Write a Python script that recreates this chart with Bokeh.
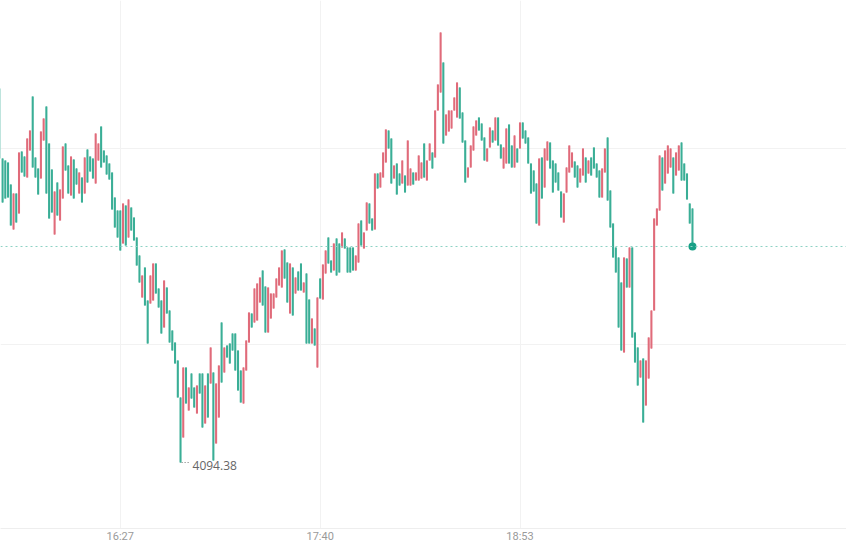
import numpy as np
import pandas as pd
from bokeh.plotting import figure
from bokeh.models import ColumnDataSource, FixedTicker, DatetimeTickFormatter, Span, Range1d
from bokeh.embed import file_html
from bokeh.resources import INLINE
from bokeh.core.properties import value

# ---- data (1-minute candles) ----
session_date = "2024-01-02"
first_candle = "15:43"

highs = [
    4113.08, 4109.58, 4109.48, 4109.38, 4108.28, 4107.83, 4107.83, 4109.88, 4109.93, 4109.68,
    4110.58, 4110.98, 4112.68, 4109.63, 4109.08, 4110.93, 4111.58, 4112.18, 4110.33, 4109.03,
    4107.93, 4108.38, 4108.03, 4110.18, 4110.33, 4109.23, 4109.68, 4109.53, 4109.08, 4108.88,
    4108.63, 4109.63, 4110.03, 4109.68, 4109.58, 4110.83, 4110.33, 4111.18, 4109.98, 4109.73,
    4109.33, 4108.88, 4107.63, 4106.98, 4106.98, 4107.33, 4107.23, 4107.53, 4107.13, 4106.63,
    4105.63, 4104.73, 4103.73, 4104.13, 4102.48, 4103.73, 4104.33, 4104.33, 4103.08, 4102.48,
    4103.48, 4103.13, 4101.98, 4100.98, 4100.38, 4099.48, 4097.63, 4099.13, 4099.13, 4098.13,
    4098.83, 4098.13, 4098.23, 4098.83, 4098.83, 4098.23, 4098.83, 4100.13, 4098.88, 4098.33,
    4099.23, 4101.38, 4100.13, 4100.23, 4100.33, 4100.83, 4100.83, 4099.98, 4098.98, 4099.13,
    4100.48, 4101.88, 4101.83, 4103.08, 4103.33, 4103.63, 4103.98, 4103.18, 4103.13, 4102.83,
    4102.83, 4103.58, 4104.13, 4104.98, 4105.03, 4104.38, 4104.33, 4104.13, 4103.63, 4103.93,
    4104.33, 4103.38, 4103.83, 4102.53, 4101.58, 4101.08, 4102.63, 4103.58, 4104.28, 4104.98,
    4105.63, 4104.48, 4105.33, 4105.58, 4105.33, 4105.88, 4105.58, 4105.13, 4105.13, 4105.13,
    4104.73, 4106.33, 4106.48, 4105.88, 4107.38, 4107.33, 4106.58, 4108.83, 4108.83, 4108.88,
    4109.88, 4111.03, 4110.98, 4110.58, 4109.23, 4109.33, 4108.83, 4109.48, 4108.73, 4110.48,
    4109.08, 4108.88, 4108.88, 4109.73, 4109.38, 4110.33, 4109.48, 4110.33, 4109.88, 4111.98,
    4113.28, 4115.88, 4114.38, 4111.78, 4111.98, 4111.98, 4112.63, 4113.38, 4113.13, 4111.88,
    4110.48, 4109.13, 4110.23, 4111.18, 4111.48, 4111.63, 4111.33, 4110.63, 4110.08, 4111.13,
    4110.98, 4111.63, 4111.63, 4110.28, 4110.13, 4111.08, 4111.28, 4110.23, 4110.73, 4110.08,
    4111.38, 4111.38, 4110.98, 4110.63, 4109.33, 4108.98, 4108.33, 4109.58, 4109.63, 4110.08,
    4110.43, 4110.38, 4109.48, 4109.33, 4108.88, 4107.93, 4107.83, 4109.13, 4110.23, 4109.88,
    4109.43, 4109.23, 4109.08, 4110.08, 4109.63, 4109.48, 4109.63, 4110.13, 4109.33, 4108.98,
    4109.08, 4110.08, 4110.63, 4107.98, 4106.33, 4105.13, 4104.63, 4103.38, 4104.63, 4104.58,
    4105.13, 4105.13, 4100.88, 4100.13, 4099.48, 4099.58, 4099.48, 4100.63, 4101.98, 4106.58,
    4107.08, 4109.73, 4109.63, 4109.98, 4110.23, 4110.08, 4109.63, 4109.88, 4110.23, 4110.38,
    4109.33, 4108.83, 4107.33, 4107.08,
]

lows = [
    4109.58, 4107.38, 4107.58, 4107.63, 4106.23, 4106.03, 4106.38, 4106.83, 4108.88, 4108.68,
    4108.63, 4109.98, 4109.13, 4108.63, 4107.78, 4108.58, 4110.48, 4107.83, 4106.58, 4106.88,
    4105.78, 4106.73, 4106.48, 4107.58, 4108.98, 4107.83, 4107.73, 4107.58, 4108.28, 4107.83,
    4107.38, 4107.83, 4108.38, 4108.93, 4108.58, 4108.33, 4109.48, 4109.13, 4109.38, 4108.78,
    4108.53, 4107.03, 4106.13, 4105.63, 4104.98, 4105.33, 4105.23, 4105.63, 4105.98, 4105.48,
    4104.23, 4103.38, 4102.63, 4102.23, 4100.33, 4102.33, 4102.48, 4102.83, 4102.13, 4100.83,
    4101.13, 4101.83, 4100.38, 4099.98, 4099.33, 4097.63, 4094.38, 4095.63, 4097.33, 4096.98,
    4097.58, 4097.13, 4096.83, 4097.83, 4096.13, 4096.33, 4096.63, 4098.33, 4094.48, 4095.33,
    4096.63, 4098.38, 4098.88, 4099.63, 4099.33, 4099.98, 4098.98, 4097.98, 4097.38, 4097.33,
    4098.98, 4100.38, 4101.13, 4101.38, 4101.48, 4102.38, 4102.23, 4100.88, 4100.88, 4101.58,
    4102.08, 4102.63, 4103.23, 4103.13, 4103.58, 4102.38, 4101.83, 4101.73, 4102.83, 4102.98,
    4102.98, 4102.88, 4100.33, 4100.33, 4100.33, 4100.23, 4099.13, 4102.58, 4102.53, 4103.83,
    4104.33, 4103.88, 4103.98, 4103.73, 4103.88, 4105.13, 4105.08, 4103.88, 4103.88, 4103.98,
    4103.98, 4104.38, 4105.23, 4105.08, 4105.98, 4106.33, 4105.98, 4106.03, 4108.08, 4108.13,
    4108.63, 4109.38, 4110.08, 4108.33, 4108.58, 4107.78, 4108.23, 4108.33, 4107.88, 4108.23,
    4108.23, 4108.28, 4108.48, 4108.48, 4108.58, 4108.63, 4108.48, 4109.48, 4109.08, 4109.63,
    4111.98, 4112.88, 4110.33, 4110.73, 4110.93, 4111.08, 4111.98, 4111.63, 4111.58, 4110.38,
    4108.38, 4108.63, 4109.13, 4109.98, 4110.73, 4110.98, 4110.48, 4109.48, 4109.43, 4110.13,
    4110.38, 4110.48, 4110.23, 4109.58, 4109.08, 4109.33, 4109.33, 4109.13, 4109.13, 4109.38,
    4110.08, 4110.58, 4110.33, 4109.33, 4107.83, 4107.93, 4106.33, 4106.23, 4107.58, 4108.13,
    4109.48, 4109.08, 4107.88, 4108.38, 4107.98, 4106.63, 4106.38, 4107.88, 4108.88, 4109.13,
    4108.63, 4108.13, 4108.38, 4108.73, 4108.38, 4108.83, 4108.73, 4109.08, 4108.63, 4107.63,
    4107.63, 4108.88, 4107.48, 4106.13, 4104.63, 4103.88, 4101.13, 4099.98, 4099.88, 4103.13,
    4103.13, 4100.63, 4099.38, 4098.23, 4098.63, 4096.38, 4097.23, 4098.58, 4100.08, 4101.98,
    4106.23, 4106.98, 4107.98, 4108.33, 4108.83, 4109.13, 4107.83, 4108.73, 4108.98, 4108.48,
    4108.48, 4107.53, 4106.33, 4105.18,
]

# u = rising candle (red), d = falling candle (green)
directions = (
    "dddddududd" "uuddduuddd" "uduudduddu" "duddduuddd" "dddddududd"
    "ddudduuddd" "uddddddudu" "dduddududu" "ududdddddu" "uuduuudduu"
    "uuuuddudud" "duddududuu" "dduddudddd" "uuduuddudu" "uudduddudu"
    "uduuuduudu" "uuduuuuudd" "duuuuddduu" "dudduuddud" "uddddddudu"
    "uddddduuuu" "dduududddd" "uuddddddud" "uddduduuuu" "uuduuuduud"
    "dddd"
)

x_tick_labels = ["16:27", "17:40", "18:53"]
price_grid_levels = [4100.28, 4110.08]

UP_COLOR = "#e06b7a"
DOWN_COLOR = "#3aae96"

# ---- derived ----
assert len(highs) == len(lows) == len(directions)
times = pd.date_range(f"{session_date} {first_candle}", periods=len(highs), freq="min")
up = np.array([c == "u" for c in directions])
highs_a = np.array(highs)
lows_a = np.array(lows)
opens = np.where(up, lows_a, highs_a)
closes = np.where(up, highs_a, lows_a)
colors = [UP_COLOR if u else DOWN_COLOR for u in up]

src = ColumnDataSource(dict(
    t=times, high=highs_a, low=lows_a,
    top=np.maximum(opens, closes), bottom=np.minimum(opens, closes), color=colors,
))

minute = pd.Timedelta(minutes=1)
t0 = times[0]
x_range = Range1d(start=t0 + 0.241 * minute, end=t0 + 309.26 * minute)
y_range = Range1d(start=4091.08, end=4117.48)

p = figure(
    x_axis_type="datetime", x_range=x_range, y_range=y_range,
    frame_width=846, frame_height=528,
    toolbar_location=None, output_backend="svg",
    y_axis_location=None, title=None,
    min_border_left=0, min_border_right=0, min_border_top=0, min_border_bottom=0,
    background_fill_color="white", border_fill_color="white",
)
p.outline_line_color = None

tick_ms = [pd.Timestamp(f"{session_date} {s}").value / 1e6 for s in x_tick_labels]
p.xaxis.ticker = FixedTicker(ticks=tick_ms)
fmt = "%H:%M"
p.xaxis.formatter = DatetimeTickFormatter(
    seconds=fmt, minsec=fmt, minutes=fmt, hourmin=fmt, hours=fmt, days=fmt,
    months=fmt, years=fmt,
)
p.xaxis.axis_line_color = "#eeeeee"
p.xaxis.major_tick_line_color = None
p.xaxis.minor_tick_line_color = None
p.xaxis.major_tick_out = 0
p.xaxis.major_tick_in = 0
p.xaxis.major_label_standoff = 1
p.xaxis.major_label_text_color = "#9a9a9a"
p.xaxis.major_label_text_font = "Roboto"
p.xaxis.major_label_text_font_size = "11px"

p.xgrid.ticker = FixedTicker(ticks=tick_ms)
p.xgrid.grid_line_color = "#f2f2f2"
p.ygrid.ticker = FixedTicker(ticks=price_grid_levels)
p.ygrid.grid_line_color = "#f2f2f2"

# candles
p.segment(x0="t", y0="high", x1="t", y1="low", line_color="color", line_width=1, source=src)
p.vbar(x="t", width=0.75 * 60000, top="top", bottom="bottom",
       fill_color="color", line_color=None, source=src)

# last price line + marker
last_close = closes[-1]
p.add_layout(Span(location=last_close, dimension="width", line_color="#8dd2c4",
                  line_dash="2 3", line_width=1))
p.scatter(x=[times[-1]], y=[last_close], size=8, fill_color="#18a086", line_color=None)

# lowest price marker
imin = int(np.argmin(lows_a))
tmin = times[imin]
p.segment(x0=[tmin + 0.4 * minute], y0=[lows_a[imin]], x1=[tmin + 3.6 * minute], y1=[lows_a[imin]],
          line_color="#777777", line_width=1, line_dash="1 2")
p.text(x=[tmin], y=[lows_a[imin]], text=[f"{lows_a[imin]:.2f}"],
       x_offset=12, y_offset=3, text_baseline="middle", text_align="left",
       text_font=value("Open Sans"), text_font_size="12px", text_color="#666666")

open("out.html", "w").write(file_html(p, INLINE))
